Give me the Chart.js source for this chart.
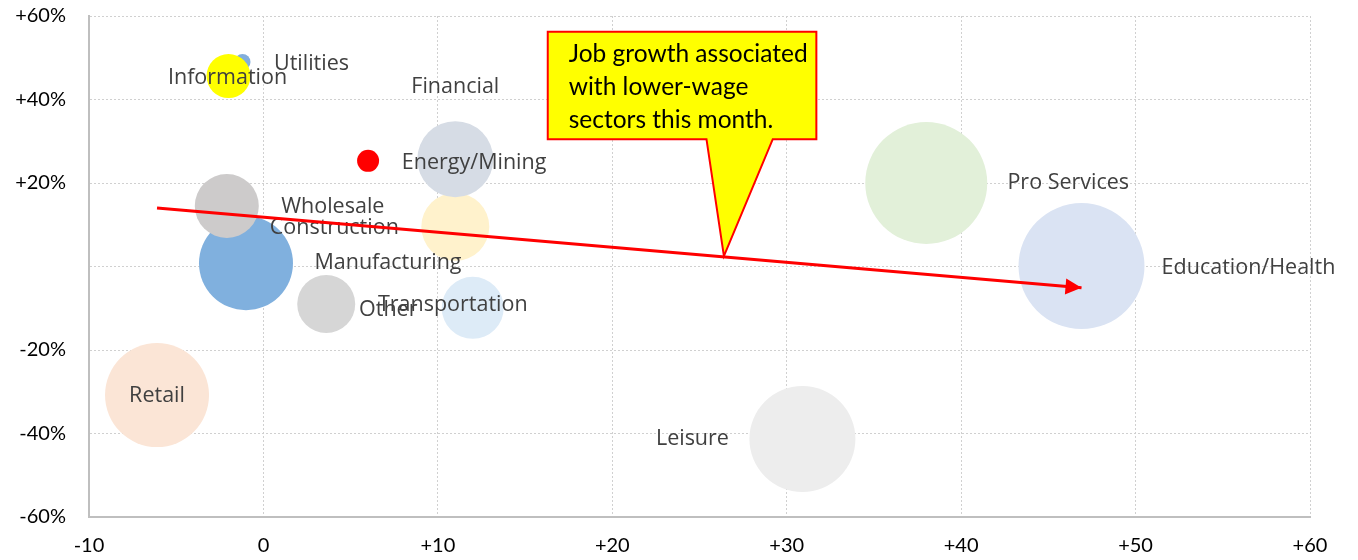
<!DOCTYPE html>
<html>
<head>
<meta charset="utf-8">
<script src="https://cdn.jsdelivr.net/npm/chart.js@4.4.1/dist/chart.umd.min.js"></script>
<style>
  body { margin: 0; background: #ffffff; }
  #wrap { width: 1358px; height: 560px; }
</style>
</head>
<body>
<div id="wrap"><canvas id="myChart" width="1358" height="560"></canvas></div>
<script>
// sectors, in drawing order
var sectors = ["Manufacturing", "Construction", "Utilities", "Information", "Financial", "Energy/Mining",
               "Wholesale", "Other", "Transportation", "Retail", "Leisure", "Pro Services", "Education/Health"];
var xValues = [-1.0, 11.0, -1.2, -2.0, 11.0, 6.0, -2.1, 3.6, 12.0, -6.1, 30.9, 38.0, 46.9];
var yValues = [0.8, 9.5, 49.0, 45.6, 25.7, 25.3, 14.5, -9.0, -9.9, -30.8, -41.3, 20.0, 0.1];
var bubbleSize = [47, 34, 8, 22, 38, 11, 32, 29, 31, 52, 53, 61, 63];
var bubbleColors = ["#80B0DE", "#FFF2CC", "#82AEDC", "#FFFF00", "#D6DCE5", "#FF0000",
                    "#CDCBCB", "#D6D6D6", "#DDEBF7", "#FBE5D6", "#EDEDED", "#E2F0D9", "#DAE3F3"];
// label offsets from bubble centre (px)
var labelDx = [142, -121, 69, -1, 0, 106, 106, 62, -20, 0, -110, 142, 167];
var labelDy = [0, 1, 2, 2, -72, 2, 1, 6, -3, 1, 0, 0, 2];

var trendX = [-6.1, 46.9];
var trendY = [14.0, -5.1];

var xTicks = [-10, 0, 10, 20, 30, 40, 50, 60];
var yTicks = [-60, -40, -20, 0, 20, 40, 60];

var calloutText = ["Job growth associated", "with lower-wage", "sectors this month."];
// box corners and pointer in data units
var callout = { left: 16.3, right: 31.7, top: 56.2, bottom: 30.5, baseL: 25.4, baseR: 29.2, tipX: 26.4, tipY: 2.5 };

function signed(v) {
    return v > 0 ? '+' + v : '' + v;
}

var labelsPlugin = {
    id: 'bubbleLabels',
    afterDatasetDraw: function(chart, args) {
        if (args.index !== 0) return;
        var ctx = chart.ctx;
        var meta = chart.getDatasetMeta(0);
        ctx.save();
        ctx.font = '21.5px "Open Sans"';
        ctx.fillStyle = '#404040';
        ctx.textAlign = 'center';
        ctx.textBaseline = 'middle';
        meta.data.forEach(function(pt, i) {
            ctx.fillText(sectors[i], pt.x + labelDx[i], pt.y + labelDy[i]);
        });
        ctx.restore();
    },
    afterDatasetsDraw: function(chart) {
        var ctx = chart.ctx;
        var xs = chart.scales.x, ys = chart.scales.y;

        // arrow head
        var p0 = { x: xs.getPixelForValue(trendX[0]), y: ys.getPixelForValue(trendY[0]) };
        var p1 = { x: xs.getPixelForValue(trendX[1]), y: ys.getPixelForValue(trendY[1]) };
        var a = Math.atan2(p1.y - p0.y, p1.x - p0.x);
        ctx.save();
        ctx.fillStyle = '#FF0000';
        ctx.beginPath();
        ctx.moveTo(p1.x, p1.y);
        ctx.lineTo(p1.x - 16 * Math.cos(a) + 8 * Math.sin(a), p1.y - 16 * Math.sin(a) - 8 * Math.cos(a));
        ctx.lineTo(p1.x - 16 * Math.cos(a) - 8 * Math.sin(a), p1.y - 16 * Math.sin(a) + 8 * Math.cos(a));
        ctx.closePath();
        ctx.fill();

        // callout
        var l = xs.getPixelForValue(callout.left), r = xs.getPixelForValue(callout.right);
        var t = ys.getPixelForValue(callout.top), b = ys.getPixelForValue(callout.bottom);
        ctx.beginPath();
        ctx.moveTo(l, t);
        ctx.lineTo(r, t);
        ctx.lineTo(r, b);
        ctx.lineTo(xs.getPixelForValue(callout.baseR), b);
        ctx.lineTo(xs.getPixelForValue(callout.tipX), ys.getPixelForValue(callout.tipY));
        ctx.lineTo(xs.getPixelForValue(callout.baseL), b);
        ctx.lineTo(l, b);
        ctx.closePath();
        ctx.fillStyle = '#FFFF00';
        ctx.fill();
        ctx.strokeStyle = '#FF0000';
        ctx.lineWidth = 2;
        ctx.stroke();

        ctx.fillStyle = '#000000';
        ctx.font = '24.5px Lato';
        ctx.textAlign = 'left';
        ctx.textBaseline = 'alphabetic';
        calloutText.forEach(function(line, i) {
            ctx.fillText(line, l + 21, t + 30 + i * 33);
        });
        ctx.restore();
    }
};

var bubblePoints = xValues.map(function(x, i) {
    return { x: x, y: yValues[i], r: bubbleSize[i] };
});

const ctx = document.getElementById('myChart').getContext('2d');
var myChart = new Chart(ctx, {
    data: {
        datasets: [
            {
                type: 'bubble',
                data: bubblePoints,
                backgroundColor: bubbleColors,
                borderWidth: 0,
                order: 1
            },
            {
                type: 'line',
                data: trendX.map(function(x, i) { return { x: x, y: trendY[i] }; }),
                borderColor: '#FF0000',
                borderWidth: 3,
                pointRadius: 0,
                order: 0
            }
        ]
    },
    options: {
        responsive: false,
        animation: false,
        events: [],
        layout: { autoPadding: false, padding: { top: 16, right: 48, left: 0, bottom: 0 } },
        plugins: {
            legend: { display: false },
            tooltip: { enabled: false }
        },
        scales: {
            x: {
                type: 'linear',
                min: -10,
                max: 60,
                afterBuildTicks: function(axis) {
                    axis.ticks = xTicks.map(function(v) { return { value: v }; });
                },
                afterFit: function(axis) { axis.height = 43; },
                ticks: {
                    color: '#000000',
                    font: { family: 'Lato', size: 20 },
                    padding: 17,
                    maxRotation: 0,
                    callback: function(v) { return signed(v); }
                },
                grid: { color: '#D0D0D0', lineWidth: 1, drawTicks: false },
                border: { display: true, color: '#BFBFBF', width: 2, dash: [2, 2] }
            },
            y: {
                type: 'linear',
                min: -60,
                max: 60,
                afterBuildTicks: function(axis) {
                    axis.ticks = yTicks.map(function(v) { return { value: v }; });
                },
                afterFit: function(axis) {
                    axis.width = 89;
                    axis.paddingTop = 0;
                    axis.paddingBottom = 0;
                },
                ticks: {
                    color: '#000000',
                    font: { family: 'Lato', size: 20 },
                    padding: 23,
                    callback: function(v) { return v === 0 ? '' : signed(v) + '%'; }
                },
                grid: { color: '#D0D0D0', lineWidth: 1, drawTicks: false },
                border: { display: true, color: '#BFBFBF', width: 2, dash: [2, 2] }
            }
        }
    },
    plugins: [labelsPlugin]
});
</script>
</body>
</html>
